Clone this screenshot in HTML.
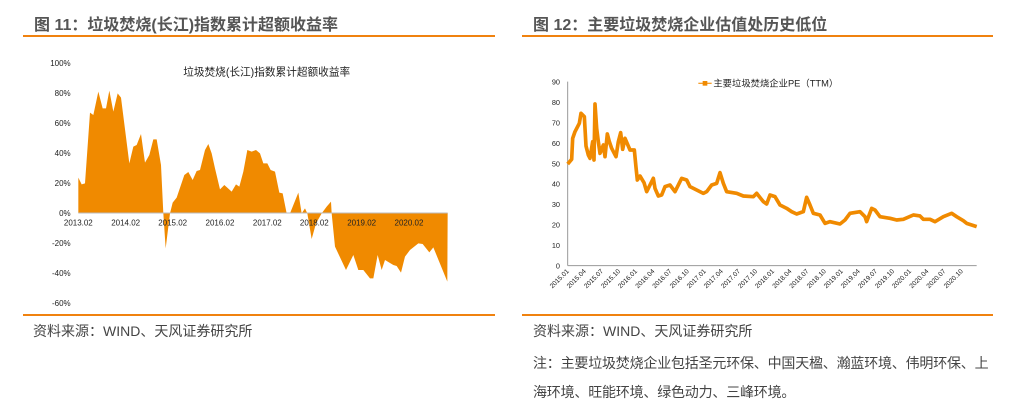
<!DOCTYPE html>
<html><head><meta charset="utf-8"><style>
body{margin:0;width:1023px;height:406px;background:#fff;overflow:hidden;font-family:"Liberation Sans","Noto Sans CJK SC",sans-serif;}
.t{position:absolute;white-space:nowrap;}
</style></head><body>
<div class="t" style="left:34px;top:11px;font-size:16px;font-weight:bold;color:#555;">图 11：垃圾焚烧(长江)指数累计超额收益率</div>
<div class="t" style="left:533px;top:11px;font-size:16px;font-weight:bold;color:#555;">图 12：主要垃圾焚烧企业估值处历史低位</div>
<div style="position:absolute;left:23px;top:35px;width:472px;height:2px;background:#f0820f"></div>
<div style="position:absolute;left:522px;top:35px;width:471px;height:2px;background:#f0820f"></div>
<div style="position:absolute;left:23px;top:314px;width:472px;height:2px;background:#f0820f"></div>
<div style="position:absolute;left:522px;top:314px;width:471px;height:2px;background:#f0820f"></div>
<div class="t" style="left:33px;top:321px;font-size:14px;color:#444;">资料来源：WIND、天风证券研究所</div>
<div class="t" style="left:533px;top:321px;font-size:14px;color:#444;">资料来源：WIND、天风证券研究所</div>
<div class="t" style="left:533px;top:353px;font-size:14px;color:#444;letter-spacing:-0.2px">注：主要垃圾焚烧企业包括圣元环保、中国天楹、瀚蓝环境、伟明环保、上</div>
<div class="t" style="left:533px;top:382px;font-size:14px;color:#444;letter-spacing:-0.2px">海环境、旺能环境、绿色动力、三峰环境。</div>

<svg width="1023" height="406" style="position:absolute;left:0;top:0" font-family="Liberation Sans, Noto Sans CJK SC, sans-serif">
<g transform="translate(30,50) scale(0.33333)">
<polygon fill="#f08a00" points="145,489 145,383 155,403 165,400 180,188 190,195 205,125 218,175 228,175 238,122 250,185 263,130 273,143 298,340 310,290 320,285 333,252 345,338 358,315 370,268 380,268 393,345 400,490 407,595 420,490 428,458 440,443 463,375 475,366 488,390 500,363 510,360 525,300 535,282 545,310 555,355 570,418 583,405 605,425 618,403 628,410 640,365 652,300 665,305 678,300 690,310 700,340 712,340 722,360 735,365 748,428 758,430 770,490 780,490 805,428 815,490 825,475 832,490 845,567 858,520 875,490 890,470 903,455 905,490 915,590 948,660 970,615 985,660 1000,660 1020,685 1030,685 1043,615 1055,660 1065,630 1090,645 1100,648 1113,668 1125,620 1140,600 1165,580 1178,582 1198,607 1210,592 1252,695 1253,489"/>
<line x1="145" y1="489" x2="1253" y2="489" stroke="#bbb" stroke-width="3"/>
<g font-size="24" fill="#222" text-anchor="end">
<text x="122" y="48">100%</text><text x="122" y="138">80%</text><text x="122" y="228">60%</text><text x="122" y="318">40%</text><text x="122" y="408">20%</text><text x="122" y="498">0%</text><text x="122" y="588">-20%</text><text x="122" y="678">-40%</text><text x="122" y="768">-60%</text>
</g>
<g font-size="24" fill="#222" text-anchor="middle">
<text x="145" y="527">2013.02</text><text x="287" y="527">2014.02</text><text x="428" y="527">2015.02</text><text x="570" y="527">2016.02</text><text x="712" y="527">2017.02</text><text x="853" y="527">2018.02</text><text x="995" y="527">2019.02</text><text x="1137" y="527">2020.02</text>
</g>
<text x="710" y="76" font-size="32" fill="#222" text-anchor="middle">垃圾焚烧(长江)指数累计超额收益率</text>
</g>

<g transform="translate(530,60) scale(0.33333)">
<line x1="113" y1="617" x2="1340" y2="617" stroke="#999" stroke-width="3"/>
<line x1="113" y1="65" x2="113" y2="617" stroke="#999" stroke-width="3"/>
<g font-size="22" fill="#222" text-anchor="end">
<text x="90" y="73">90</text><text x="90" y="135">80</text><text x="90" y="196">70</text><text x="90" y="258">60</text><text x="90" y="319">50</text><text x="90" y="380">40</text><text x="90" y="441">30</text><text x="90" y="503">20</text><text x="90" y="564">10</text><text x="90" y="625">0</text>
</g>
<g font-size="20" fill="#222" text-anchor="end">
<text transform="translate(118,635) rotate(-45)">2015.01</text>
<text transform="translate(169,635) rotate(-45)">2015.04</text>
<text transform="translate(221,635) rotate(-45)">2015.07</text>
<text transform="translate(272,635) rotate(-45)">2015.10</text>
<text transform="translate(323,635) rotate(-45)">2016.01</text>
<text transform="translate(375,635) rotate(-45)">2016.04</text>
<text transform="translate(426,635) rotate(-45)">2016.07</text>
<text transform="translate(478,635) rotate(-45)">2016.10</text>
<text transform="translate(529,635) rotate(-45)">2017.01</text>
<text transform="translate(580,635) rotate(-45)">2017.04</text>
<text transform="translate(632,635) rotate(-45)">2017.07</text>
<text transform="translate(683,635) rotate(-45)">2017.10</text>
<text transform="translate(734,635) rotate(-45)">2018.01</text>
<text transform="translate(786,635) rotate(-45)">2018.04</text>
<text transform="translate(837,635) rotate(-45)">2018.07</text>
<text transform="translate(889,635) rotate(-45)">2018.10</text>
<text transform="translate(940,635) rotate(-45)">2019.01</text>
<text transform="translate(991,635) rotate(-45)">2019.04</text>
<text transform="translate(1043,635) rotate(-45)">2019.07</text>
<text transform="translate(1094,635) rotate(-45)">2019.10</text>
<text transform="translate(1145,635) rotate(-45)">2020.01</text>
<text transform="translate(1197,635) rotate(-45)">2020.04</text>
<text transform="translate(1248,635) rotate(-45)">2020.07</text>
<text transform="translate(1300,635) rotate(-45)">2020.10</text>
</g>
<line x1="505" y1="70" x2="545" y2="70" stroke="#f5a030" stroke-width="4"/>
<rect x="518" y="63" width="14" height="14" fill="#f08a00"/>
<text x="550" y="80" font-size="28" fill="#222">主要垃圾焚烧企业PE（TTM）</text>
<polyline fill="none" stroke="#f8b860" stroke-width="4" points="113,312 125,298 128,235 135,215 148,190 153,160 163,170 168,258 175,285 180,295 188,245 192,300 195,132 200,205 205,245 210,280 220,255 225,290 232,222 238,245 245,265 258,290 265,245 272,218 278,268 285,235 300,270 313,270 318,322 322,360 330,348 342,368 350,395 370,355 375,385 385,408 395,405 405,380 420,375 435,395 455,355 470,360 480,380 500,390 520,400 530,395 545,375 560,370 570,338 580,370 590,395 620,400 640,408 670,410 680,400 700,425 710,432 720,405 735,410 750,435 770,445 785,455 800,462 820,455 830,412 840,435 850,460 870,465 885,490 900,485 930,492 945,480 960,460 990,455 1005,470 1010,485 1025,445 1035,450 1050,470 1080,475 1100,480 1120,478 1150,465 1170,468 1180,478 1200,478 1215,485 1240,470 1265,460 1280,470 1300,482 1310,490 1340,500"/>
<polyline fill="none" stroke="#f08a00" stroke-width="11" stroke-linejoin="round" points="113,312 125,298 128,235 135,215 148,190 153,160 163,170 168,258 175,285 180,295 188,245 192,300 195,132 200,205 205,245 210,280 220,255 225,290 232,222 238,245 245,265 258,290 265,245 272,218 278,268 285,235 300,270 313,270 318,322 322,360 330,348 342,368 350,395 370,355 375,385 385,408 395,405 405,380 420,375 435,395 455,355 470,360 480,380 500,390 520,400 530,395 545,375 560,370 570,338 580,370 590,395 620,400 640,408 670,410 680,400 700,425 710,432 720,405 735,410 750,435 770,445 785,455 800,462 820,455 830,412 840,435 850,460 870,465 885,490 900,485 930,492 945,480 960,460 990,455 1005,470 1010,485 1025,445 1035,450 1050,470 1080,475 1100,480 1120,478 1150,465 1170,468 1180,478 1200,478 1215,485 1240,470 1265,460 1280,470 1300,482 1310,490 1340,500"/>
</g>
</svg>
</body></html>
